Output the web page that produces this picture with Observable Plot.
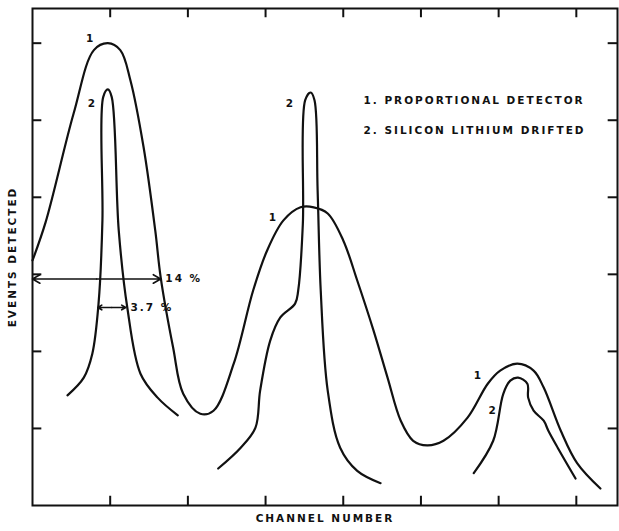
<!DOCTYPE html>
<html>
<head>
<meta charset="utf-8">
<script src="https://cdn.jsdelivr.net/npm/d3@7"></script>
<script src="https://cdn.jsdelivr.net/npm/@observablehq/plot@0.6"></script>
<style>
  html, body { margin: 0; padding: 0; background: #fff; }
  svg text { font-family: "DejaVu Sans", sans-serif; font-weight: bold; }
</style>
</head>
<body>
<div id="chart"></div>
<script>
// Curve 1: proportional detector (channel, events)
const proportional = [
  [0.00, 3.18], [0.17, 3.68], [0.53, 5.09], [0.79, 5.91], [0.97, 6.00], [1.13, 5.91],
  [1.26, 5.52], [1.43, 4.65], [1.58, 3.57], [1.65, 2.96], [1.81, 2.05], [1.94, 1.45],
  [2.16, 1.19], [2.33, 1.23], [2.59, 1.84], [2.84, 2.79], [3.02, 3.31], [3.23, 3.70],
  [3.45, 3.87], [3.62, 3.87], [3.80, 3.79], [4.00, 3.44], [4.18, 2.92], [4.39, 2.27],
  [4.57, 1.66], [4.74, 1.10], [4.90, 0.84], [5.08, 0.78], [5.29, 0.84], [5.60, 1.14],
  [5.86, 1.58], [6.02, 1.75], [6.24, 1.84], [6.45, 1.75], [6.58, 1.53], [6.80, 0.97],
  [7.01, 0.55], [7.31, 0.22]
];
// Curve 2: silicon lithium drifted, three separate peaks
const siliconA = [
  [0.45, 1.43], [0.66, 1.66], [0.77, 1.97], [0.85, 2.62], [0.90, 3.70], [0.91, 5.30],
  [0.97, 5.40], [1.02, 5.30], [1.11, 3.57], [1.22, 2.57], [1.39, 1.71], [1.61, 1.40],
  [1.87, 1.17]
];
const siliconB = [
  [2.39, 0.48], [2.68, 0.75], [2.87, 1.01], [2.93, 1.49], [3.06, 2.14], [3.19, 2.44],
  [3.38, 2.62], [3.42, 2.79], [3.48, 3.66], [3.51, 5.26], [3.58, 5.36], [3.63, 5.26],
  [3.67, 4.09], [3.71, 2.79], [3.80, 1.49], [3.96, 0.75], [4.18, 0.45], [4.48, 0.29]
];
const siliconC = [
  [5.68, 0.42], [5.93, 0.84], [6.06, 1.45], [6.15, 1.62], [6.25, 1.66], [6.37, 1.58],
  [6.38, 1.40], [6.45, 1.23], [6.58, 1.10], [6.64, 0.97], [6.76, 0.75], [6.99, 0.35]
];
const xTicks = [1, 2, 3, 4, 5, 6, 7];
const yTicks = [1, 2, 3, 4, 5, 6];
const curveLabels = [
  {x: 0.75, y: 6.06, t: "1"}, {x: 0.77, y: 5.21, t: "2"},
  {x: 3.32, y: 5.21, t: "2"}, {x: 3.10, y: 3.73, t: "1"},
  {x: 5.74, y: 1.69, t: "1"}, {x: 5.93, y: 1.23, t: "2"}
];
const legendLines = [
  {x: 4.26, y: 5.26, t: "1. PROPORTIONAL DETECTOR"},
  {x: 4.26, y: 4.87, t: "2. SILICON LITHIUM DRIFTED"}
];
// Resolution (FWHM) markers
const widths = [
  {x1: 0.00, x2: 1.65, y: 2.94, t: "14 %"},
  {x1: 0.84, x2: 1.20, y: 2.57, t: "3.7 %"}
];

const xDomain = [0, 7.53], yDomain = [0, 6.45];
const tx = 0.12, ty = 0.12;

const pts = a => a.map(([x, y]) => ({x, y}));
const lineOpts = {x: "x", y: "y", curve: "catmull-rom", stroke: "#111", strokeWidth: 2.2};

const plot = Plot.plot({
  width: 619, height: 531,
  marginLeft: 32, marginRight: 2, marginTop: 8, marginBottom: 26,
  x: {domain: xDomain, axis: null},
  y: {domain: yDomain, axis: null},
  marks: [
    Plot.frame({stroke: "#111", strokeWidth: 2}),
    // inward ticks
    Plot.ruleX(xTicks, {x: d => d, y1: yDomain[0], y2: yDomain[0] + ty, stroke: "#111", strokeWidth: 2}),
    Plot.ruleX(xTicks, {x: d => d, y1: yDomain[1], y2: yDomain[1] - ty, stroke: "#111", strokeWidth: 2}),
    Plot.ruleY(yTicks, {y: d => d, x1: xDomain[0], x2: xDomain[0] + tx, stroke: "#111", strokeWidth: 2}),
    Plot.ruleY(yTicks, {y: d => d, x1: xDomain[1], x2: xDomain[1] - tx, stroke: "#111", strokeWidth: 2}),
    Plot.line(pts(proportional), lineOpts),
    Plot.line(pts(siliconA), lineOpts),
    Plot.line(pts(siliconB), lineOpts),
    Plot.line(pts(siliconC), lineOpts),
    // double arrows
    Plot.arrow(widths, {x1: d => (d.x1 + d.x2) / 2, x2: "x2", y1: "y", y2: "y", headLength: 8, strokeWidth: 1.6, stroke: "#111"}),
    Plot.arrow(widths, {x1: d => (d.x1 + d.x2) / 2, x2: "x1", y1: "y", y2: "y", headLength: 8, strokeWidth: 1.6, stroke: "#111"}),
    Plot.text(widths, {x: d => d.x2 + 0.06, y: "y", text: "t", textAnchor: "start", fontSize: 10.5, fill: "#111"}),
    Plot.text(curveLabels, {x: "x", y: "y", text: "t", fontSize: 10.5, fill: "#111"}),
    Plot.text(legendLines, {x: "x", y: "y", text: "t", textAnchor: "start", fontSize: 10.5, fill: "#111"}),
    Plot.text(["EVENTS DETECTED"], {frameAnchor: "left", textAnchor: "middle", dx: -20, rotate: -90, text: d => d, fontSize: 10.5, fill: "#111"}),
    Plot.text(["CHANNEL NUMBER"], {frameAnchor: "bottom", textAnchor: "middle", dy: 16, text: d => d, fontSize: 10.5, fill: "#111"})
  ]
});
plot.querySelectorAll("text").forEach(t => t.style.letterSpacing = "2px");
document.getElementById("chart").appendChild(plot);
</script>
</body>
</html>
